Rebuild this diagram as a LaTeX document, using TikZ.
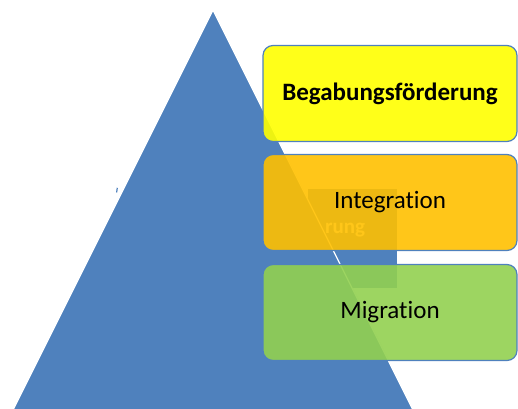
\documentclass[tikz,border=0pt]{standalone}
\usepackage{fontspec}
\setmainfont{Carlito}[Ligatures=NoCommon]
\definecolor{triblue}{HTML}{4F81BD}
\definecolor{byellow}{HTML}{FFFF00}
\definecolor{borange}{HTML}{FFC000}
\definecolor{bgreen}{HTML}{92D050}
\begin{document}
\begin{tikzpicture}[x=1pt,y=-1pt,
  levelbox/.style={draw=triblue,line width=1.2pt,rounded corners=10pt,fill opacity=0.9,text opacity=1,
    minimum width=254pt,minimum height=96pt,inner sep=0pt,font=\fontsize{25}{30}\selectfont,text=black},
]
\useasboundingbox (0,0) rectangle (518,408);
\clip (0,0) rectangle (518,408);
% hidden text box behind
\node[fill=triblue,minimum width=89pt,minimum height=99pt,inner sep=0pt,anchor=north west] (ghost) at (308,189) {};
\node[text=white,font=\fontsize{21}{25}\selectfont\bfseries,anchor=base west,inner sep=0pt] (ghosttxt) at (325,233) {rung};
\draw[triblue,line width=1.2pt] (117.3,187.8) -- (116.6,192.5);
% triangle
\coordinate (apex) at (213,10);
\coordinate (bl) at (8,420);
\coordinate (br) at (418,420);
\fill[triblue] (apex) -- (bl) -- (br) -- cycle;
\draw[white,line width=1.2pt] (bl) -- (apex) -- (br);
% boxes
\node[levelbox,fill=byellow,font=\fontsize{25}{30}\selectfont\bfseries] (b1) at (390,93.5) {Begabungsförderung};
\node[levelbox,fill=borange] (b2) at (390,202.5) {Integration};
\node[levelbox,fill=bgreen] (b3) at (390,312.5) {Migration};
\end{tikzpicture}
\end{document}
